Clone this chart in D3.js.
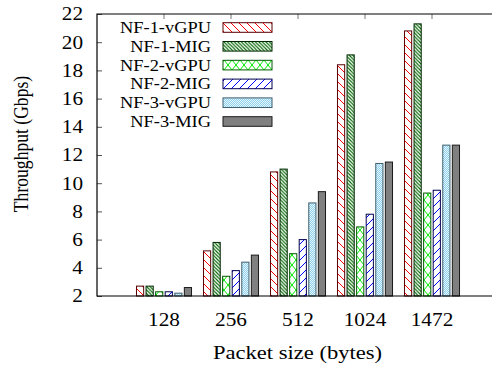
<!DOCTYPE html>
<html>
<head>
<meta charset="utf-8">
<script src="https://cdn.jsdelivr.net/npm/d3@7"></script>
<style>
  html, body { margin: 0; padding: 0; background: #fff; }
  svg { display: block; }
  text { font-family: "Liberation Serif", "Times New Roman", serif; fill: #000; }
</style>
</head>
<body>
<svg id="chart" width="492" height="368"></svg>
<script>
const packetSizes = ["128", "256", "512", "1024", "1472"];
const seriesNames = ["NF-1-vGPU", "NF-1-MIG", "NF-2-vGPU", "NF-2-MIG", "NF-3-vGPU", "NF-3-MIG"];
const nf1Vgpu = [2.7, 5.2, 10.8, 18.4, 20.8];
const nf1Mig = [2.7, 5.8, 11.0, 19.1, 21.3];
const nf2Vgpu = [2.3, 3.4, 5.0, 6.9, 9.3];
const nf2Mig = [2.3, 3.8, 6.0, 7.8, 9.5];
const nf3Vgpu = [2.2, 4.4, 8.6, 11.4, 12.7];
const nf3Mig = [2.6, 4.9, 9.4, 11.5, 12.7];
const yTicks = [2, 4, 6, 8, 10, 12, 14, 16, 18, 20, 22];

const seriesValues = [nf1Vgpu, nf1Mig, nf2Vgpu, nf2Mig, nf3Vgpu, nf3Mig];

// fill pattern id + border colour per series
const styles = [
  { fill: "url(#p-red)", stroke: "#5a0000" },
  { fill: "url(#p-dgreen)", stroke: "#002800" },
  { fill: "url(#p-lgreen)", stroke: "#005a00" },
  { fill: "url(#p-blue)", stroke: "#000050" },
  { fill: "url(#p-sky)", stroke: "#3d5f6e" },
  { fill: "#808080", stroke: "#1a1a1a" },
];

const stretch = 1.15; // picture text is slightly wider than tall
const svg = d3.select("#chart");
const plotLeft = 97, plotTop = 14, plotBottom = 296, plotRight = 492;

const defs = svg.append("defs");
function linePattern(id, color, w, h, lines, sw) {
  const p = defs.append("pattern").attr("id", id)
    .attr("patternUnits", "userSpaceOnUse").attr("width", w).attr("height", h);
  p.append("rect").attr("width", w).attr("height", h).attr("fill", "#fff");
  lines.forEach(([x1, y1, x2, y2]) => {
    p.append("line").attr("x1", x1).attr("y1", y1).attr("x2", x2).attr("y2", y2)
      .attr("stroke", color).attr("stroke-width", sw);
  });
}
linePattern("p-red", "#ff0000", 8, 8, [[0, 0, 8, 8], [-1, 7, 1, 9], [7, -1, 9, 1]], 1);
linePattern("p-dgreen", "#006400", 3.5, 3.5, [[0, 0, 3.5, 3.5], [-1, 2.5, 1, 4.5], [2.5, -1, 4.5, 1]], 1.1);
linePattern("p-lgreen", "#00ee00", 8, 10, [[0, 0, 8, 10], [8, 0, 0, 10]], 1);
linePattern("p-blue", "#0000ff", 8, 8, [[0, 8, 8, 0], [-1, 1, 1, -1], [7, 9, 9, 7]], 1);
const sky = defs.append("pattern").attr("id", "p-sky")
  .attr("patternUnits", "userSpaceOnUse").attr("width", 2).attr("height", 2);
sky.append("rect").attr("width", 2).attr("height", 2).attr("fill", "#8fd0ec");
sky.append("rect").attr("width", 1).attr("height", 1).attr("fill", "#e6f6fd");
sky.append("rect").attr("x", 1).attr("y", 1).attr("width", 1).attr("height", 1).attr("fill", "#e6f6fd");

const x = d3.scaleLinear().domain([-1, 6]).range([plotLeft, plotLeft + 7 * 67]);
const slot = 67 / 7;
const inner = d3.scaleBand().domain(seriesNames)
  .range([-3 * slot, 3 * slot]).paddingInner(0.25).paddingOuter(0.125);
const y = d3.scaleLinear().domain([2, 22]).range([plotBottom, plotTop]);

// y axis with inward ticks
const yAxis = svg.append("g").attr("transform", `translate(${plotLeft},0)`)
  .call(d3.axisLeft(y).tickValues(yTicks).tickSizeInner(-5).tickSizeOuter(0)
    .tickPadding(14 / stretch));
yAxis.select(".domain").remove();
yAxis.selectAll("line").attr("stroke", "#555");
yAxis.selectAll("text")
  .attr("font-family", "Liberation Serif").attr("font-size", 18.5)
  .attr("transform", `scale(${stretch},1)`);

// top ticks at category centres
svg.append("g").selectAll("line").data(packetSizes).join("line")
  .attr("x1", (d, i) => x(i)).attr("x2", (d, i) => x(i))
  .attr("y1", plotTop).attr("y2", plotTop + 5)
  .attr("stroke", "#777");

// bars
const groups = svg.append("g").selectAll("g").data(seriesNames).join("g");
groups.each(function (name, s) {
  d3.select(this).selectAll("rect")
    .data(seriesValues[s])
    .join("rect")
    .attr("x", (v, i) => x(i) + inner(name))
    .attr("width", inner.bandwidth())
    .attr("y", (v) => y(v))
    .attr("height", (v) => y(2) - y(v))
    .attr("fill", styles[s].fill)
    .attr("stroke", styles[s].stroke)
    .attr("stroke-width", 1);
});

// frame: left, top, bottom
svg.append("path")
  .attr("d", `M${plotRight},${plotTop}H${plotLeft}V${plotBottom}H${plotRight}`)
  .attr("fill", "none").attr("stroke", "#000").attr("stroke-width", 1.2);

// x tick labels
svg.append("g").selectAll("text").data(packetSizes).join("text")
  .attr("transform", (d, i) => `translate(${x(i)},326) scale(${stretch},1)`)
  .attr("text-anchor", "middle").attr("font-size", 18.5)
  .text((d) => d);

// axis titles
svg.append("text")
  .attr("transform", `translate(297.5,359) scale(${stretch},1)`)
  .attr("text-anchor", "middle").attr("font-size", 19.6)
  .text("Packet size (bytes)");
svg.append("text")
  .attr("transform", `translate(28,144) rotate(-90) scale(1,${stretch})`)
  .attr("text-anchor", "middle").attr("font-size", 17.6)
  .text("Throughput (Gbps)");

// legend
const rowY = (i) => 27.5 + i * 18.8;
const legend = svg.append("g");
seriesNames.forEach((name, i) => {
  legend.append("text")
    .attr("transform", `translate(211,${rowY(i) + 5.5}) scale(${stretch},1)`)
    .attr("text-anchor", "end").attr("font-size", 16)
    .text(name);
  legend.append("rect")
    .attr("x", 223).attr("y", rowY(i) - 4.8)
    .attr("width", 49).attr("height", 9.6)
    .attr("fill", styles[i].fill)
    .attr("stroke", styles[i].stroke).attr("stroke-width", 1);
});
</script>
</body>
</html>
